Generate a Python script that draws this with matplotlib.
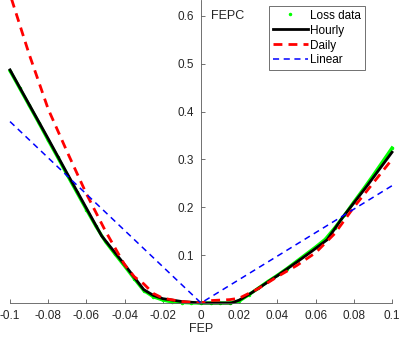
import matplotlib
matplotlib.use('Agg')
import matplotlib.pyplot as plt

plt.rcParams['font.family'] = ['Liberation Sans', 'DejaVu Sans']

# loss data (green dots)
loss_x = [-0.100, -0.095, -0.090, -0.085, -0.080, -0.075, -0.070, -0.065, -0.060, -0.055,
          -0.050, -0.045, -0.040, -0.035, -0.030, -0.025, -0.020, -0.015, -0.010, -0.005,
          0.000, 0.005, 0.010, 0.015, 0.020, 0.025, 0.030, 0.035, 0.040, 0.045,
          0.050, 0.055, 0.060, 0.065, 0.070, 0.075, 0.080, 0.085, 0.090, 0.095, 0.100]
loss_y = [0.485, 0.449, 0.413, 0.377, 0.340, 0.304, 0.267, 0.231, 0.195, 0.160,
          0.128, 0.102, 0.077, 0.051, 0.026, 0.013, 0.006, 0.002, 0.001, 0.000,
          0.000, 0.000, 0.000, 0.000, 0.004, 0.017, 0.031, 0.045, 0.058, 0.072,
          0.087, 0.102, 0.117, 0.133, 0.157, 0.183, 0.211, 0.238, 0.266, 0.295, 0.324]

# hourly fit
hourly_x = [-0.1, -0.09, -0.08, -0.07, -0.06, -0.052, -0.04, -0.03, -0.025, -0.02, -0.01, 0.0,
            0.016, 0.02, 0.026, 0.04, 0.05, 0.058, 0.066, 0.074, 0.087, 0.1]
hourly_y = [0.487, 0.415, 0.343, 0.27, 0.198, 0.14, 0.08, 0.028, 0.016, 0.009, 0.003, 0.0,
            0.0, 0.006, 0.02, 0.057, 0.085, 0.108, 0.132, 0.178, 0.245, 0.315]

# daily fit
daily_x = [-0.1, -0.09, -0.08, -0.07, -0.06, -0.05, -0.04, -0.035, -0.03, -0.025, -0.02, -0.01, 0.0,
           0.005, 0.015, 0.02, 0.03, 0.04, 0.05, 0.06, 0.07, 0.08, 0.09, 0.1]
daily_y = [0.645, 0.52, 0.405, 0.315, 0.228, 0.15, 0.08, 0.055, 0.04, 0.02, 0.01, 0.003, 0.0,
           0.005, 0.007, 0.01, 0.03, 0.055, 0.078, 0.105, 0.145, 0.2, 0.25, 0.30]

# linear fit
linear_x = [-0.1, 0.0, 0.1]
linear_y = [0.379, 0.0, 0.245]

fig = plt.figure(figsize=(3.99, 3.38), dpi=100)
ax = fig.add_axes([0.0251, 0.1036, 0.9574, 0.8964])

green = (0, 1, 0)
ax.plot(loss_x, loss_y, '-', color=green, lw=2.3, clip_on=False)
ax.plot(loss_x, loss_y, '.', color=green, ms=3, label='Loss data', clip_on=False)
ax.plot(hourly_x, hourly_y, '-', color='k', lw=2, label='Hourly', clip_on=False)
ax.plot(daily_x, daily_y, '--', color='r', lw=2, dashes=(3.2, 2.2), label='Daily')
ax.plot(linear_x, linear_y, '--', color='b', lw=1.1, dashes=(4, 3), label='Linear', clip_on=False)

ax.set_xlim(-0.1, 0.1)
ax.set_ylim(0, 0.633)

ax.spines['top'].set_visible(False)
ax.spines['right'].set_visible(False)
ax.spines['left'].set_position(('data', 0))
ax.spines['bottom'].set_position(('data', 0))
for s in ['left', 'bottom']:
    ax.spines[s].set_color('0.35')
    ax.spines[s].set_linewidth(0.6)

xt = [-0.1, -0.08, -0.06, -0.04, -0.02, 0, 0.02, 0.04, 0.06, 0.08, 0.1]
ax.set_xticks(xt)
ax.set_xticklabels(['-0.1', '-0.08', '-0.06', '-0.04', '-0.02', '0',
                    '0.02', '0.04', '0.06', '0.08', '0.1'])
ax.set_yticks([0.1, 0.2, 0.3, 0.4, 0.5, 0.6])
ax.set_yticklabels(['0.1', '0.2', '0.3', '0.4', '0.5', '0.6'])
ax.tick_params(direction='in', length=3, width=0.6, color='0.35',
               labelsize=8.5, labelcolor='0.15', pad=5)
ax.patch.set_alpha(0)

ax.text(0.0052, 0.6, 'FEPC', fontsize=9, color='0.15', va='center', ha='left')
fig.text(201 / 399, 1 - 329 / 338, 'FEP', fontsize=9, color='0.15', ha='center', va='center')

leg = ax.legend(loc='upper left', bbox_to_anchor=(0.678, 0.98), fontsize=8.5,
                handlelength=3.0, handletextpad=0.2, labelspacing=0.25,
                borderpad=0.3, borderaxespad=0, fancybox=False, framealpha=1,
                edgecolor='0.35', markerscale=1.0)
leg.get_frame().set_linewidth(0.6)

fig.savefig('out.png', dpi=100)
